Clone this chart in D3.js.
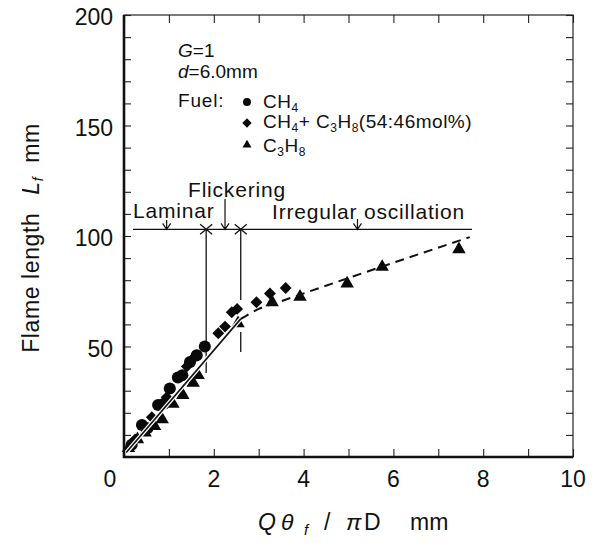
<!DOCTYPE html>
<html>
<head>
<meta charset="utf-8">
<title>Flame length</title>
<script src="https://d3js.org/d3.v7.min.js"></script>
<style>
  body { margin: 0; background: #fff; }
  text { font-family: "Liberation Sans", Arial, Helvetica, sans-serif; fill: #111; }
</style>
</head>
<body>
<script>
// data
var ch4X = [0.17, 0.4, 0.52, 0.76, 0.88, 1.02, 1.2, 1.3, 1.47, 1.62, 1.8];
var ch4Y = [5.5, 14.5, 13, 23.5, 24, 31, 36, 37, 43, 46, 50];

var mixX = [0.25, 0.62, 0.95, 1.4, 1.56, 2.1, 2.25, 2.4, 2.52, 2.95, 3.25, 3.6];
var mixY = [8, 18, 27, 41, 45, 56, 59, 65.5, 67, 70, 74, 76.5];

var c3h8X = [0.1, 0.3, 0.47, 0.68, 0.85, 1.09, 1.31, 1.54, 1.65, 2.54, 3.3, 3.92, 4.97, 5.75, 7.46];
var c3h8Y = [4, 8, 11, 14, 17, 24, 28, 33.5, 37, 60.5, 70, 72.5, 78.5, 86, 94];

// correlation lines
var solidX = [0.05, 2.6];
var solidY = [2, 62.5];
var dashX = [2.6, 3.0, 3.5, 5.0, 7.7];
var dashY = [62.5, 67, 70.5, 81, 99.5];

// regime boundaries
var regimeLineY = 103;
var regimeLineX = [0.2, 7.75];
var boundaryX = [1.83, 2.6];
var boundarySegs = [[[103, 38]], [[103, 71], [56.6, 47.5]]];
var regimeNames = ["Laminar", "Flickering", "Irregular oscillation"];
var regimeArrowX = [0.95, 2.25, 5.2];

var xTicks = [0, 1, 2, 3, 4, 5, 6, 7, 8, 9, 10];
var xLabels = [2, 4, 6, 8, 10];
var yTicks = d3.range(0, 201, 10);
var yLabels = [50, 100, 150, 200];

var W = 603, H = 543;
var svg = d3.select("body").append("svg").attr("width", W).attr("height", H);

var x = d3.scaleLinear().domain([0, 10]).range([124, 573]);
var y = d3.scaleLinear().domain([0, 200]).range([457, 15]);

// ticks, inward on all sides
svg.append("g").attr("transform", "translate(0," + y(0) + ")")
  .call(d3.axisBottom(x).tickValues(xTicks).tickSize(-8).tickFormat(""));
svg.append("g").attr("transform", "translate(0," + y(200) + ")")
  .call(d3.axisTop(x).tickValues(xTicks).tickSize(-8).tickFormat(""));
svg.append("g").attr("transform", "translate(" + x(0) + ",0)")
  .call(d3.axisLeft(y).tickValues(yTicks).tickSize(-7).tickFormat(""));
svg.append("g").attr("transform", "translate(" + x(10) + ",0)")
  .call(d3.axisRight(y).tickValues(yTicks).tickSize(-7).tickFormat(""));
svg.selectAll(".domain").remove();
svg.selectAll(".tick line").attr("stroke", "#222").attr("stroke-width", 1.1);

// frame
svg.append("rect").attr("x", x(0)).attr("y", y(200))
  .attr("width", x(10) - x(0)).attr("height", y(0) - y(200))
  .attr("fill", "none").attr("stroke", "#222").attr("stroke-width", 1.2);
svg.append("path")
  .attr("d", "M" + x(0) + "," + y(200) + "V" + y(0) + "H" + x(10))
  .attr("fill", "none").attr("stroke", "#111").attr("stroke-width", 2.6);

// tick labels
svg.append("g").selectAll("text").data(xLabels).enter().append("text")
  .attr("x", function(d) { return x(d); }).attr("y", 487)
  .attr("text-anchor", "middle").attr("font-size", 23)
  .text(function(d) { return d; });
svg.append("text").attr("x", 110).attr("y", 487)
  .attr("text-anchor", "middle").attr("font-size", 23).text("0");
svg.append("g").selectAll("text").data(yLabels).enter().append("text")
  .attr("x", 113).attr("y", function(d) { return y(d) + 10; })
  .attr("text-anchor", "end").attr("font-size", 23)
  .text(function(d) { return d; });

// axis titles
var yt = svg.append("text").attr("transform", "translate(39,238) rotate(-90)")
  .attr("text-anchor", "middle").attr("font-size", 23).attr("letter-spacing", 0.6);
yt.append("tspan").text("Flame length");
yt.append("tspan").attr("dx", 18).attr("font-style", "italic").text("L");
yt.append("tspan").attr("font-style", "italic").attr("font-size", 14).attr("dy", 4).text("f");
yt.append("tspan").attr("dy", -4).attr("dx", 14).text("mm");

var xt = svg.append("text").attr("y", 530).attr("font-size", 23);
xt.append("tspan").attr("x", 258).attr("font-style", "italic").text("Q");
xt.append("tspan").attr("x", 281).attr("font-style", "italic").text("θ");
xt.append("tspan").attr("x", 304).attr("font-style", "italic").attr("font-size", 15).attr("dy", 5).text("f");
xt.append("tspan").attr("x", 324).attr("dy", -5).text("/");
xt.append("tspan").attr("x", 346).attr("font-style", "italic").text("π");
xt.append("tspan").attr("x", 364).text("D");
xt.append("tspan").attr("x", 410).text("mm");

// regime line, arrows, boundaries
var ink = "#111";
svg.append("line")
  .attr("x1", x(regimeLineX[0])).attr("x2", x(regimeLineX[1]))
  .attr("y1", y(regimeLineY)).attr("y2", y(regimeLineY))
  .attr("stroke", ink).attr("stroke-width", 1.3);

boundaryX.forEach(function(bx, i) {
  boundarySegs[i].forEach(function(s) {
    svg.append("line").attr("x1", x(bx)).attr("x2", x(bx))
      .attr("y1", y(s[0])).attr("y2", y(s[1]))
      .attr("stroke", ink).attr("stroke-width", 1.3);
  });
  var cx = x(bx), cy = y(regimeLineY);
  svg.append("path")
    .attr("d", "M" + (cx - 6) + "," + (cy - 5) + "L" + (cx + 6) + "," + (cy + 5) +
               "M" + (cx - 6) + "," + (cy + 5) + "L" + (cx + 6) + "," + (cy - 5))
    .attr("stroke", ink).attr("stroke-width", 1.3);
});

var arrowTop = [220, 199, 219];
regimeArrowX.forEach(function(ax, i) {
  var px = x(ax), py = y(regimeLineY);
  svg.append("path")
    .attr("d", "M" + px + "," + arrowTop[i] + "V" + py +
               "M" + (px - 4) + "," + (py - 6) + "L" + px + "," + py + "L" + (px + 4) + "," + (py - 6))
    .attr("fill", "none").attr("stroke", ink).attr("stroke-width", 1.2);
});

var regimeTextX = [133, 188, 272];
var regimeTextY = [218, 197, 219];
regimeNames.forEach(function(n, i) {
  svg.append("text").attr("x", regimeTextX[i]).attr("y", regimeTextY[i])
    .attr("font-size", 21).attr("letter-spacing", 0.8).text(n);
});

// marker shapes
var circleSym = d3.symbol().type(d3.symbolCircle);
var diamondSym = d3.symbol().type(d3.symbolDiamond2);
var triSym = d3.symbol().type(d3.symbolTriangle);

function drawMarks(xs, ys, sym, size) {
  svg.append("g").selectAll("path").data(xs).enter().append("path")
    .attr("transform", function(d, i) { return "translate(" + x(d) + "," + y(ys[i]) + ")"; })
    .attr("d", sym.size(size)())
    .attr("fill", "#0a0a0a");
}
drawMarks(c3h8X, c3h8Y, triSym, 78);
drawMarks(mixX, mixY, diamondSym, 90);
drawMarks(ch4X, ch4Y, circleSym, 115);

// correlation lines
var solidLine = d3.line().x(function(d, i) { return x(solidX[i]); }).y(function(d, i) { return y(solidY[i]); });
svg.append("path").attr("d", solidLine(solidX))
  .attr("fill", "none").attr("stroke", "#fff").attr("stroke-width", 4);
svg.append("path").attr("d", solidLine(solidX))
  .attr("fill", "none").attr("stroke", ink).attr("stroke-width", 1.6);

var dashLine = d3.line().x(function(d, i) { return x(dashX[i]); }).y(function(d, i) { return y(dashY[i]); })
  .curve(d3.curveMonotoneX);
svg.append("path").attr("d", dashLine(dashX))
  .attr("fill", "none").attr("stroke", ink).attr("stroke-width", 2)
  .attr("stroke-dasharray", "9,6");

// legend / parameters
var g1 = svg.append("text").attr("x", 178).attr("y", 57).attr("font-size", 19);
g1.append("tspan").attr("font-style", "italic").text("G");
g1.append("tspan").text("=1");
var d1 = svg.append("text").attr("x", 178).attr("y", 78).attr("font-size", 19);
d1.append("tspan").attr("font-style", "italic").text("d");
d1.append("tspan").text("=6.0mm");
svg.append("text").attr("x", 178).attr("y", 107).attr("font-size", 19)
  .attr("letter-spacing", 0.8).text("Fuel:");

var legY = [102, 123, 145];
var legSym = [circleSym.size(50), diamondSym.size(55), triSym.size(35)];
legY.forEach(function(ly, i) {
  svg.append("path").attr("transform", "translate(247," + ly + ")")
    .attr("d", legSym[i]()).attr("fill", "#0a0a0a");
});

// chemical formula with subscripts; parts flagged 1 are subscripts
function formula(t, parts) {
  var shift = 0;
  parts.forEach(function(p) {
    var s = t.append("tspan").text(p[0]);
    if (p[1]) {
      s.attr("font-size", 12).attr("dy", 4 - shift);
      shift = 4;
    } else {
      s.attr("dy", -shift);
      shift = 0;
    }
  });
}
var l1 = svg.append("text").attr("x", 263).attr("y", 108).attr("font-size", 19).attr("letter-spacing", 0.5);
formula(l1, [["CH"], ["4", 1]]);
var l2 = svg.append("text").attr("x", 263).attr("y", 128).attr("font-size", 19).attr("letter-spacing", 0.5);
formula(l2, [["CH"], ["4", 1], ["+ C"], ["3", 1], ["H"], ["8", 1], ["(54:46mol%)"]]);
var l3 = svg.append("text").attr("x", 263).attr("y", 152).attr("font-size", 19).attr("letter-spacing", 0.5);
formula(l3, [["C"], ["3", 1], ["H"], ["8", 1]]);
</script>
</body>
</html>
